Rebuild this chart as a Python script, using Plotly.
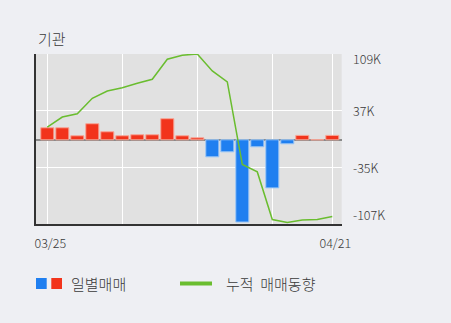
import plotly.graph_objects as go

# ---- data (values in thousands of shares) ----
dates = ["03/25", "03/26", "03/29", "03/30", "03/31", "04/01", "04/02", "04/05",
         "04/06", "04/07", "04/08", "04/09", "04/12", "04/13", "04/14", "04/15",
         "04/16", "04/19", "04/20", "04/21"]
daily = [15.3, 15.3, 5.1, 20.4, 10.2, 5.1, 6.4, 6.4, 26.8, 5.1, 2.5,
         -21.7, -15.3, -104.5, -8.9, -61.1, -5.1, 5.6, 0.0, 5.6]
cumulative = [16.2, 28.9, 33.1, 52.7, 62.0, 66.2, 71.8, 76.9, 102.4, 107.5, 109.0,
              87.5, 73.5, -31.3, -40.8, -101.4, -105.2, -101.9, -101.4, -97.6]
grid_dates = ["03/25", "04/01", "04/08", "04/15", "04/21"]
grid_text = ["03/25", "", "", "", "04/21"]
y_ticks = [109, 37, -35, -107]
y_tick_text = ["109K", "37K", "-35K", "-107K"]
title = "기관"
legend_bar = "일별매매"
legend_line = "누적&nbsp;&nbsp;매매동향"

W, H = 451, 323
RED, BLUE, GREEN = "#f2341c", "#1f7ff0", "#6abd2f"
FONT = "Noto Sans CJK KR"
TXT = "#3a3a3a"

def px(x):
    return x / W

def py(y):
    return 1 - y / H

bar_colors = [RED if v >= 0 else BLUE for v in daily]
edge_colors = ["#f7a596" if v >= 0 else "#9cc7f6" for v in daily]

fig = go.Figure()
fig.add_bar(x=dates, y=daily, width=0.87,
            marker=dict(color=bar_colors, line=dict(color=edge_colors, width=1)),
            showlegend=False, hoverinfo="skip")
fig.add_scatter(x=dates, y=cumulative, mode="lines",
                line=dict(color=GREEN, width=1.5), showlegend=False, hoverinfo="skip")

x0, x1, y0, y1 = 36, 341.7, 54, 224
fig.update_layout(
    width=W, height=H,
    margin=dict(l=0, r=0, t=0, b=0),
    paper_bgcolor="#eeeff3", plot_bgcolor="#e1e1e1",
    font=dict(family=FONT, color=TXT, size=12, weight=300),
    showlegend=False,
    xaxis=dict(type="category", domain=[px(x0), px(x1)], range=[-0.753, 19.627],
               tickvals=grid_dates, ticktext=grid_text, ticks="", ticklabelstandoff=7,
               ticklabelshift=3,
               showgrid=True, gridcolor="#ffffff", gridwidth=1,
               showline=True, linecolor="#333333", linewidth=2,
               automargin=False, fixedrange=True,
               tickfont=dict(size=12.5, color=TXT, weight=300)),
    yaxis=dict(domain=[py(y1), py(y0)], range=[-107, 109],
               tickvals=y_ticks, showticklabels=False, ticks="",
               showgrid=True, gridcolor="#ffffff", gridwidth=1,
               zeroline=True, zerolinecolor="#8a8a8a", zerolinewidth=2,
               showline=True, linecolor="#333333", linewidth=2,
               automargin=False, fixedrange=True),
)

annotations = []
shifts = {0: -5, len(y_ticks) - 1: 9}
for i, (v, t) in enumerate(zip(y_ticks, y_tick_text)):
    annotations.append(dict(x=px(351), xref="paper", y=v, yref="y", text=t,
                            xanchor="left", yanchor="middle", showarrow=False,
                            yshift=shifts.get(i, 0),
                            font=dict(size=12.5, color=TXT, weight=300)))
annotations.append(dict(x=px(36), xref="paper", y=py(38), yref="paper", text=title,
                        xanchor="left", yanchor="middle", showarrow=False,
                        font=dict(size=15, color=TXT, weight=300)))
annotations.append(dict(x=px(69), xref="paper", y=py(283), yref="paper", text=legend_bar,
                        xanchor="left", yanchor="middle", showarrow=False,
                        font=dict(size=15, color=TXT, weight=300)))
annotations.append(dict(x=px(224), xref="paper", y=py(283), yref="paper", text=legend_line,
                        xanchor="left", yanchor="middle", showarrow=False,
                        font=dict(size=15, color=TXT, weight=300)))
fig.update_layout(annotations=annotations)

shapes = [
    dict(type="rect", xref="paper", yref="paper", x0=px(36), x1=px(46.7),
         y0=py(289), y1=py(278), fillcolor=BLUE, line=dict(width=0)),
    dict(type="rect", xref="paper", yref="paper", x0=px(51.3), x1=px(62),
         y0=py(289), y1=py(278), fillcolor=RED, line=dict(width=0)),
    dict(type="line", xref="paper", yref="paper", x0=px(180), x1=px(212),
         y0=py(283.5), y1=py(283.5), line=dict(color=GREEN, width=4)),
]
fig.update_layout(shapes=shapes)

fig.write_html("out.html", config={"displayModeBar": False})
